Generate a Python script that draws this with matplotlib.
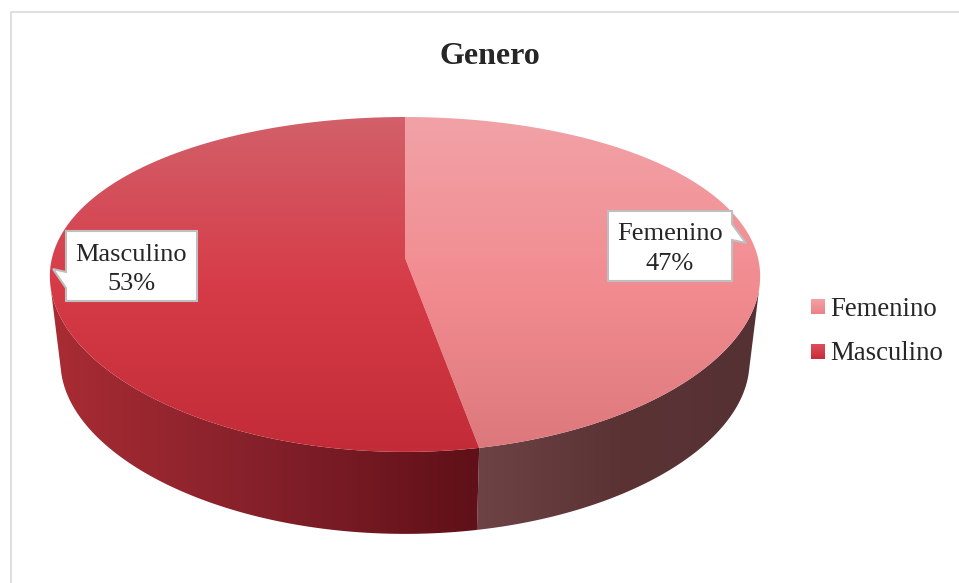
import numpy as np
import matplotlib.pyplot as plt
from matplotlib.colors import LinearSegmentedColormap
from matplotlib.patches import Polygon

categories = ['Femenino', 'Masculino']
shares = [47, 53]
title = 'Genero'

# gradient colours, top surface runs top to bottom, side runs left to right
top_colors = [['#f1a2a7', '#f28c91', '#dc787c'], ['#d2606a', '#d63c48', '#c22b37']]
side_colors = [['#6e4346', '#5b3335', '#553133'], ['#a92c34', '#84202a', '#5f1018']]
key_colors = [['#f4a0a5', '#e98387'], ['#db4f5a', '#c92c38']]

plt.rcParams['font.family'] = ['Liberation Serif', 'DejaVu Serif']
text_color = '#262626'

fig = plt.figure(figsize=(9.59, 5.83), dpi=100)
ax = fig.add_axes([0, 0, 1, 1])


def gradient(colors, box, clip, vertical=True):
    cmap = LinearSegmentedColormap.from_list('g', colors)
    ramp = np.linspace(0, 1, 256)
    ramp = ramp[:, None] if vertical else ramp[None, :]
    im = ax.imshow(ramp, cmap=cmap, extent=box, origin='upper', aspect='auto', zorder=2)
    im.set_clip_path(clip)


# tilted disc, the front is drawn bigger than the back
def top_point(theta):
    u, v = np.sin(theta), -np.cos(theta)
    return 405 + 353 * u / (1 - 0.11 * v), (122.5 * v + 258) / (1 - 0.158 * v)


def bottom_point(theta):
    x, y = top_point(theta)
    return 405 + (x - 405) * 0.97, 370 + (y - 284.5) * 0.979


edges = np.cumsum([0] + shares) / sum(shares) * 2 * np.pi

# sides first, they start where the disc is widest
side_ranges = [(np.radians(99), edges[1]), (edges[1], np.radians(261))]
for i, (a, b) in enumerate(side_ranges):
    t = np.linspace(a, b, 120)
    tx, ty = top_point(t)
    bx, by = bottom_point(t)
    pts = np.r_[np.c_[tx, ty], np.c_[bx, by][::-1]]
    patch = Polygon(pts, closed=True, fc='none', ec='none', zorder=1)
    ax.add_patch(patch)
    gradient(side_colors[i], (pts[:, 0].min(), pts[:, 0].max(), 540, 110), patch, vertical=False)

for i in range(2):
    t = np.linspace(edges[i], edges[i + 1], 240)
    tx, ty = top_point(t)
    pts = np.r_[[[405, 258]], np.c_[tx, ty]]
    patch = Polygon(pts, closed=True, fc='none', ec='none', zorder=1)
    ax.add_patch(patch)
    gradient(top_colors[i], (40, 770, 452, 117), patch)

# chart frame
ax.plot([10.5, 10.5, 959], [583, 11.5, 11.5], color='#e0e0e0', lw=1.5, zorder=1)

ax.text(490, 56, title, ha='center', va='center', fontsize=23, fontweight='bold', color=text_color, zorder=5)

# callouts
femenino_box = [(608, 211), (732, 211), (732, 224), (746, 243), (732, 240), (732, 281), (608, 281)]
masculino_box = [(66, 231), (197, 231), (197, 301), (66, 301), (66, 288), (53, 269), (66, 272)]
for box in [femenino_box, masculino_box]:
    ax.add_patch(Polygon(box, closed=True, fc='white', ec='#bfbfbf', lw=1.5, zorder=4))

ax.text(670, 249, f'{categories[0]}\n{shares[0]}%', ha='center', va='center', fontsize=19,
        color=text_color, linespacing=1.45, zorder=5)
ax.text(131.5, 269.5, f'{categories[1]}\n{shares[1]}%', ha='center', va='center', fontsize=19,
        color=text_color, linespacing=1.45, zorder=5)

# legend
for i, y in enumerate([306.5, 352]):
    ax.imshow(np.linspace(0, 1, 32)[:, None], cmap=LinearSegmentedColormap.from_list('k', key_colors[i]),
              extent=(811, 825, y + 7.5, y - 7.5), origin='upper', aspect='auto', zorder=3)
    ax.text(830, y + 3 - i, categories[i], ha='left', va='center', fontsize=19.3, color=text_color, zorder=5)

ax.set_xlim(0, 959)
ax.set_ylim(583, 0)
ax.axis('off')
fig.savefig('out.png', dpi=100, facecolor='white')
